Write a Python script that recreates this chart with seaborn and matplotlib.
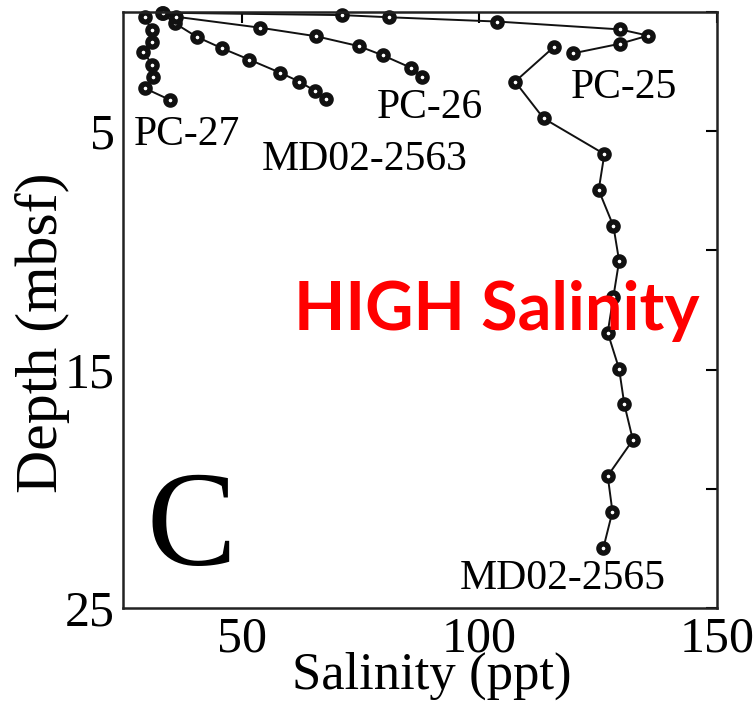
import numpy as np
import pandas as pd
import matplotlib
matplotlib.use("Agg")
import matplotlib.pyplot as plt
import seaborn as sns

# ---- data ----
pc27_sal = [29.6, 31.0, 31.0, 29.3, 31.2, 31.3, 29.6, 34.9]
pc27_depth = [0.22, 0.76, 1.25, 1.69, 2.21, 2.71, 3.20, 3.69]

md2563_sal = [33.2, 35.9, 40.5, 45.8, 51.6, 58.1, 62.1, 65.5, 67.7]
md2563_depth = [0.04, 0.47, 1.04, 1.52, 2.00, 2.55, 2.92, 3.32, 3.66]

pc26_sal = [36.2, 53.9, 65.7, 74.6, 79.7, 85.6, 87.9]
pc26_depth = [0.20, 0.66, 1.02, 1.43, 1.82, 2.34, 2.74]

pc25_sal = [33.4, 71.0, 80.9, 103.7, 129.6, 135.5, 129.6, 119.8]
pc25_depth = [0.03, 0.13, 0.22, 0.40, 0.73, 0.99, 1.33, 1.73]

md2565_sal = [115.6, 107.5, 113.5, 126.3, 125.1, 128.2, 129.4, 128.2, 127.0,
              129.4, 130.5, 132.3, 127.0, 128.0, 126.1]
md2565_depth = [1.48, 2.92, 4.46, 5.96, 7.47, 8.98, 10.44, 11.94, 13.45,
                14.97, 16.46, 17.95, 19.46, 20.96, 22.47]

core_names = ["PC-27", "MD02-2563", "PC-26", "PC-25", "MD02-2565"]
x_ticks = [50, 100, 150]
y_ticks = [0, 5, 10, 15, 20, 25]
y_ticklabels = ["", "5", "", "15", "", "25"]

frames = []
for name, s, d in zip(core_names,
                      [pc27_sal, md2563_sal, pc26_sal, pc25_sal, md2565_sal],
                      [pc27_depth, md2563_depth, pc26_depth, pc25_depth, md2565_depth]):
    frames.append(pd.DataFrame({"core": name, "salinity": s, "depth": d}))
df = pd.concat(frames, ignore_index=True)

# ---- style ----
sns.set_style("white")
plt.rcParams["font.family"] = ["Liberation Serif", "DejaVu Serif"]
plt.rcParams["text.color"] = "black"
plt.rcParams["axes.labelcolor"] = "black"
plt.rcParams["xtick.color"] = "black"
plt.rcParams["ytick.color"] = "black"

W, H = 753, 713
fig = plt.figure(figsize=(W / 100, H / 100), dpi=100)
L, R, T, B = 123, 717, 12, 608
ax = fig.add_axes([L / W, 1 - B / H, (R - L) / W, (B - T) / H])

ink = "#111111"
for name in core_names:
    sub = df[df["core"] == name]
    sns.lineplot(data=sub, x="salinity", y="depth", sort=False, estimator=None,
                 color=ink, lw=1.4, marker="o", markersize=6.6,
                 markerfacecolor="white", markeredgecolor=ink,
                 markeredgewidth=3.9, ax=ax, legend=False, clip_on=False)

ax.set_xlim(25, 150)
ax.set_ylim(25, 0)
ax.set_xticks(x_ticks)
ax.set_xticklabels([str(t) for t in x_ticks])
ax.set_yticks(y_ticks)
ax.set_yticklabels(y_ticklabels)
ax.tick_params(direction="in", length=8, width=1.5, top=True, right=True,
               labelsize=36, pad=6, colors="black")
for sp in ax.spines.values():
    sp.set_linewidth(1.8)
    sp.set_color("#222222")

ax.set_xlabel("Salinity (ppt)", fontsize=38)
ax.set_ylabel("Depth (mbsf)", fontsize=43)
ax.xaxis.set_label_coords((432 - L) / (R - L), -(689 - B) / (B - T), transform=ax.transAxes)
ax.yaxis.set_label_coords(-(L - 15) / (R - L), 1 - (333 - T) / (B - T), transform=ax.transAxes)
ax.xaxis.label.set_va("baseline")
ax.yaxis.label.set_va("top")


def fpos(px, py):
    return px / W, 1 - py / H


def lab(txt, px, py, size=30, **kw):
    x, y = fpos(px, py)
    fig.text(x, y, txt, ha="left", va="baseline", fontsize=size, color="black", **kw)


lab("PC-27", 134, 145)
lab("MD02-2563", 262, 170)
lab("PC-26", 377, 118)
lab("PC-25", 571, 98)
lab("MD02-2565", 460, 589)
lab("C", 146, 565, size=97)

x, y = fpos(497, 330)
fig.text(x, y, "HIGH Salinity", ha="center", va="baseline", fontsize=48,
         color="#ff0000", fontweight="bold", family=["Lato", "DejaVu Sans"])

fig.savefig("out.png", dpi=100)
